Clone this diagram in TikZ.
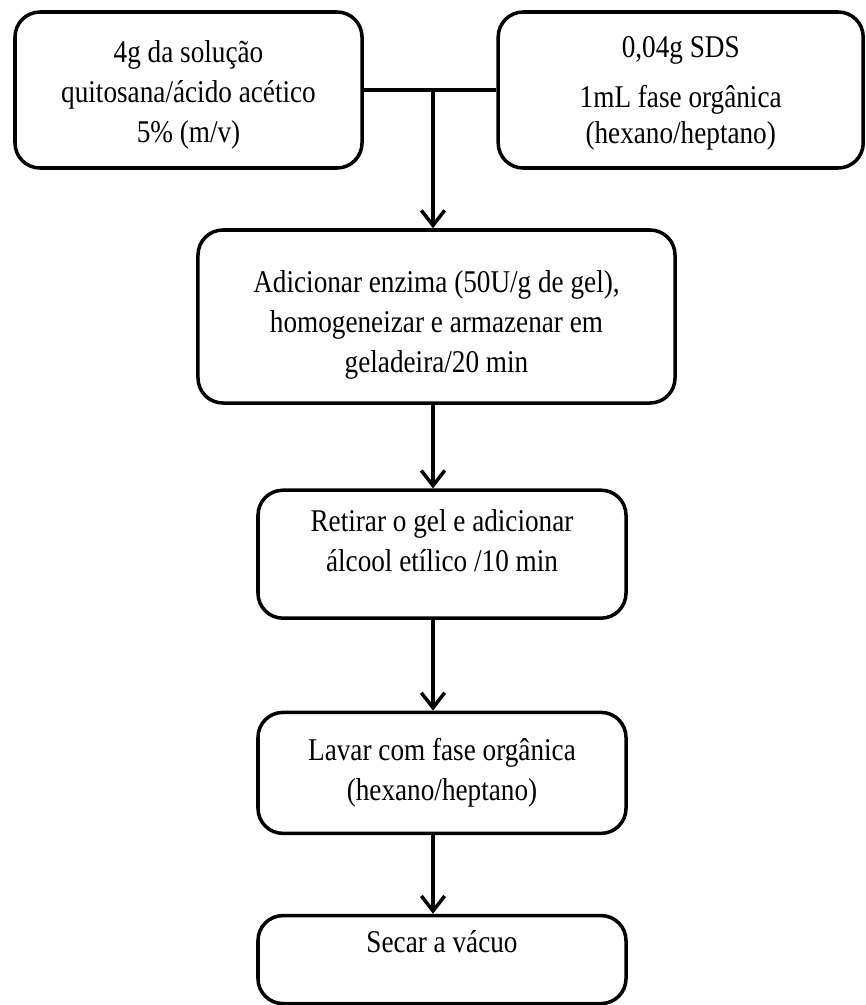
\documentclass[tikz,border=0pt]{standalone}
\usepackage{fontspec}
\setmainfont[FakeStretch=0.86]{Liberation Serif}
\usepackage{tikz}
\usetikzlibrary{positioning, arrows.meta}

\begin{document}
\begin{tikzpicture}[
  x=0.03cm, y=-0.03cm,
  font=\fontsize{27}{34}\selectfont,
  etapa/.style={draw, line width=3pt, rounded corners=0.75cm, align=center, inner sep=0pt},
  seta/.style={-{Straight Barb[length=0.45cm, width=0.7cm]}, line width=3pt}
]

\useasboundingbox (0,0) rectangle (866,1005);

\node[
  etapa,
  minimum width=10.41cm,
  minimum height=4.68cm
] (solucao) at (188.5,90)
{\rule{0pt}{0.95cm}4g da solução\\
quitosana/ácido acético\\
5\% (m/v)};

\node[
  etapa,
  minimum width=10.95cm,
  minimum height=4.68cm,
  right=3.98cm of solucao
] (fase)
{\rule{0pt}{0.85cm}0,04g SDS\\[0.3cm]
1mL fase orgânica\\[-0.12cm]
(hexano/heptano)};

\node[
  etapa,
  minimum width=14.31cm,
  minimum height=5.19cm
] (enzima) at (436.5,316.5)
{\rule{0pt}{1.15cm}Adicionar enzima (50U/g de gel),\\
homogeneizar e armazenar em\\
geladeira/20 min};

\node[
  etapa,
  minimum width=11.04cm,
  minimum height=3.84cm,
  below=2.51cm of enzima,
  xshift=0.165cm
] (alcool)
{Retirar o gel e adicionar\\
álcool etílico /10 min\rule[-0.8cm]{0pt}{0pt}};

\node[
  etapa,
  minimum width=11.04cm,
  minimum height=3.63cm,
  below=2.72cm of alcool
] (lavar)
{Lavar com fase orgânica\\
(hexano/heptano)};

\node[
  etapa,
  minimum width=11.04cm,
  minimum height=2.64cm,
  below=2.36cm of lavar
] (secar)
{Secar a vácuo\rule[-1.1cm]{0pt}{0pt}};

\coordinate (junta) at (433,90);

\draw[line width=3pt] (solucao) -- (fase);
\draw[seta] (junta) -- (enzima.north -| junta);
\draw[seta] (enzima.south -| junta) -- (alcool.north -| junta);
\draw[seta] (alcool.south -| junta) -- (lavar.north -| junta);
\draw[seta] (lavar.south -| junta) -- (secar.north -| junta);

\end{tikzpicture}
\end{document}
